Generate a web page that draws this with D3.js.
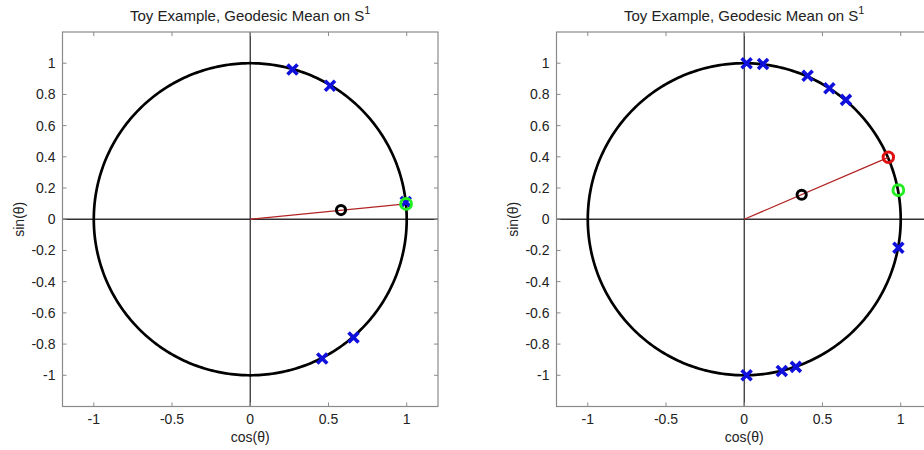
<!DOCTYPE html>
<html>
<head>
<meta charset="utf-8">
<script src="https://cdn.jsdelivr.net/npm/d3@7"></script>
<style>
  html, body { margin: 0; padding: 0; background: #fff; }
  svg { display: block; }
  text { font-family: "Liberation Sans", Arial, sans-serif; fill: #222; }
</style>
</head>
<body>
<svg id="chart" width="924" height="450"></svg>
<script>
// Axis ticks and labels
const xTicks = [-1, -0.5, 0, 0.5, 1];
const yTicks = [1, 0.8, 0.6, 0.4, 0.2, 0, -0.2, -0.4, -0.6, -0.8, -1];
const titleText = "Toy Example, Geodesic Mean on S";
const titleSup = "1";
const xLabel = "cos(θ)";
const yLabel = "sin(θ)";

// Left example: samples on the circle, their Euclidean mean, and the geodesic mean
const leftSamplesX = [0.27, 0.51, 0.994, 0.46, 0.66];
const leftSamplesY = [0.96, 0.855, 0.11, -0.893, -0.758];
const leftEuclidMean = [0.58, 0.059];
const leftProjected = [0.996, 0.098];
const leftGeodesic = [0.996, 0.098];

// Right example
const rightSamplesX = [0.015, 0.12, 0.405, 0.544, 0.65, 0.985, 0.015, 0.24, 0.33];
const rightSamplesY = [1.0, 0.995, 0.919, 0.84, 0.765, -0.183, -1.0, -0.972, -0.946];
const rightEuclidMean = [0.367, 0.157];
const rightProjected = [0.921, 0.397];
const rightGeodesic = [0.985, 0.187];

const svg = d3.select("#chart");

function drawPanel(left, samplesX, samplesY, euclid, projected, geodesic, showProjected) {
  const top = 32, bottom = 406.5;
  const width = 375.5;
  const x = d3.scaleLinear().domain([-1.2, 1.2]).range([left, left + width]);
  const y = d3.scaleLinear().domain([-1.2, 1.2]).range([bottom, top]);
  const g = svg.append("g");

  // zero lines
  g.append("line").attr("x1", x(-1.2)).attr("x2", x(1.2)).attr("y1", y(0)).attr("y2", y(0))
    .attr("stroke", "#333").attr("stroke-width", 1.3);
  g.append("line").attr("x1", x(0)).attr("x2", x(0)).attr("y1", y(-1.2)).attr("y2", y(1.2))
    .attr("stroke", "#333").attr("stroke-width", 1.3);

  // unit circle
  const angles = d3.range(0, 361, 1).map(d => d * Math.PI / 180);
  g.append("path")
    .attr("d", d3.line().x(a => x(Math.cos(a))).y(a => y(Math.sin(a)))(angles))
    .attr("fill", "none").attr("stroke", "#000").attr("stroke-width", 2.7);

  // geodesic from the origin through the Euclidean mean
  g.append("line")
    .attr("x1", x(0)).attr("y1", y(0))
    .attr("x2", x(projected[0])).attr("y2", y(projected[1]))
    .attr("stroke", "#b22424").attr("stroke-width", 1.3);

  // samples
  const s = 5;
  const pts = samplesX.map((v, i) => [v, samplesY[i]]);
  const cross = g.selectAll("g.sample").data(pts).enter().append("g")
    .attr("transform", d => `translate(${x(d[0])},${y(d[1])})`);
  cross.append("path").attr("d", `M${-s},${-s}L${s},${s}M${-s},${s}L${s},${-s}`)
    .attr("stroke", "#1010dd").attr("stroke-width", 3.6).attr("fill", "none");

  // Euclidean mean
  g.append("circle").attr("cx", x(euclid[0])).attr("cy", y(euclid[1])).attr("r", 4.6)
    .attr("fill", "none").attr("stroke", "#000").attr("stroke-width", 3);
  if (showProjected) {
    g.append("circle").attr("cx", x(projected[0])).attr("cy", y(projected[1])).attr("r", 5.2)
      .attr("fill", "none").attr("stroke", "#e01010").attr("stroke-width", 3);
  }
  g.append("circle").attr("cx", x(geodesic[0])).attr("cy", y(geodesic[1])).attr("r", 5.4)
    .attr("fill", "none").attr("stroke", "#22ee22").attr("stroke-width", 3);

  // box
  g.append("rect").attr("x", x(-1.2)).attr("y", top).attr("width", width).attr("height", bottom - top)
    .attr("fill", "none").attr("stroke", "#8a8a8a").attr("stroke-width", 1.2);

  // ticks (inside, on all four sides)
  const tl = 4;
  xTicks.forEach(t => {
    g.append("line").attr("x1", x(t)).attr("x2", x(t)).attr("y1", bottom).attr("y2", bottom - tl)
      .attr("stroke", "#8a8a8a");
    g.append("line").attr("x1", x(t)).attr("x2", x(t)).attr("y1", top).attr("y2", top + tl)
      .attr("stroke", "#8a8a8a");
    g.append("text").attr("x", x(t)).attr("y", 424).attr("text-anchor", "middle")
      .attr("font-size", 14).text(t);
  });
  yTicks.forEach(t => {
    g.append("line").attr("x1", x(-1.2)).attr("x2", x(-1.2) + tl).attr("y1", y(t)).attr("y2", y(t))
      .attr("stroke", "#8a8a8a");
    g.append("line").attr("x1", x(1.2)).attr("x2", x(1.2) - tl).attr("y1", y(t)).attr("y2", y(t))
      .attr("stroke", "#8a8a8a");
    g.append("text").attr("x", x(-1.2) - 7).attr("y", y(t) + 5).attr("text-anchor", "end")
      .attr("font-size", 14).text(t);
  });

  // labels
  g.append("text").attr("x", x(0)).attr("y", 442).attr("text-anchor", "middle")
    .attr("font-size", 14).text(xLabel);
  g.append("text").attr("transform", `translate(${x(-1.2) - 39},${y(0)}) rotate(-90)`)
    .attr("text-anchor", "middle").attr("font-size", 14).text(yLabel);
  const title = g.append("text").attr("x", x(0)).attr("y", 21).attr("text-anchor", "middle")
    .attr("font-size", 15);
  title.append("tspan").text(titleText);
  title.append("tspan").attr("dy", -7).attr("font-size", 11).text(titleSup);
}

drawPanel(62.5, leftSamplesX, leftSamplesY, leftEuclidMean, leftProjected, leftGeodesic, false);
drawPanel(556.5, rightSamplesX, rightSamplesY, rightEuclidMean, rightProjected, rightGeodesic, true);
</script>
</body>
</html>
